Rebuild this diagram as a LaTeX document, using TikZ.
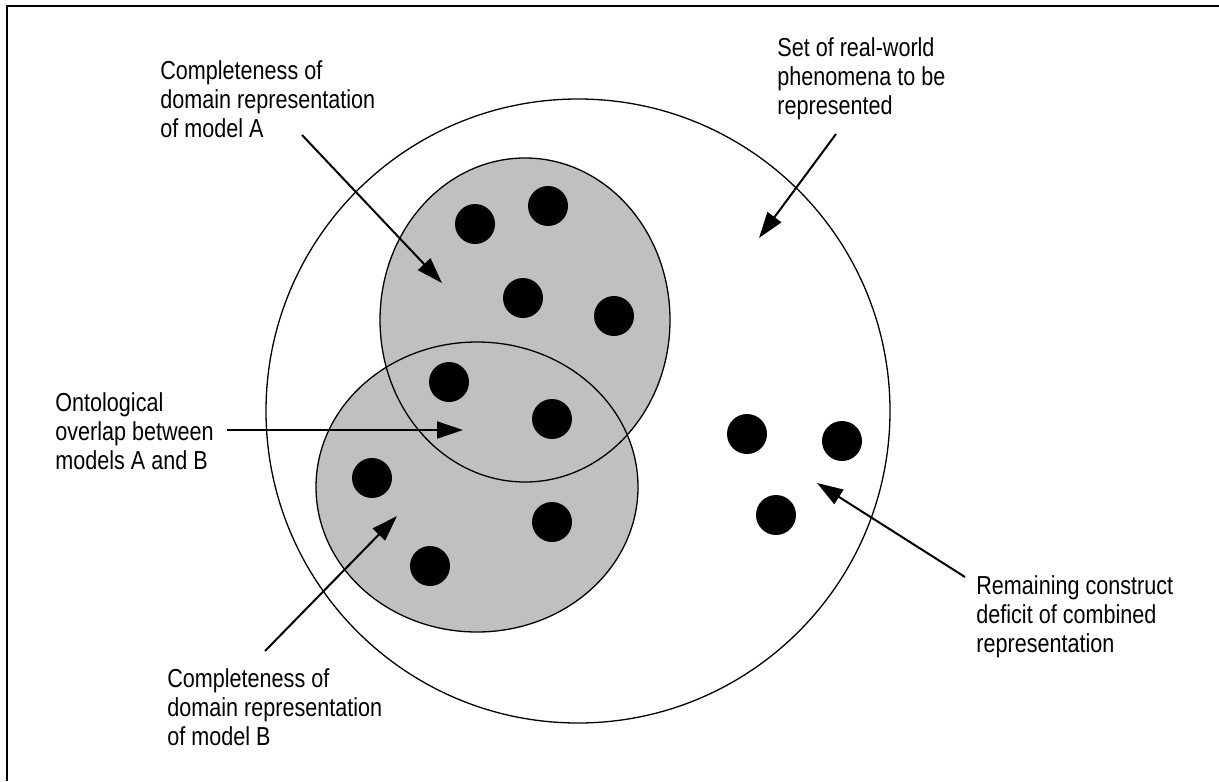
\documentclass[tikz,border=0pt]{standalone}
\usepackage{fontspec}
\setmainfont{Liberation Sans}[FakeStretch=0.83]
\usetikzlibrary{arrows.meta}
\definecolor{modelgray}{RGB}{192,192,192}

\begin{document}
\begin{tikzpicture}[
    x=0.5pt, y=-0.5pt,
    dot/.style={circle, fill=black, inner sep=0pt, minimum size=20pt},
    note/.style={anchor=north west, align=left, inner sep=0pt, font=\fontsize{13}{14.5}\selectfont},
    region/.style={line width=0.65pt},
    pointer/.style={-{Triangle[length=13pt,width=8.5pt]}, line width=1pt}
]
    \useasboundingbox (0,0) rectangle (1219,781);
    \draw [line width=1.2pt] (7,781) -- (7,6) -- (1219,6);

    % the world and the two models
    \draw [region] (578,411) circle [radius=312];
    \fill [modelgray] (525,320) ellipse [x radius=145, y radius=162];
    \fill [modelgray] (477,487) ellipse [x radius=161, y radius=145];
    \draw [region] (525,320) ellipse [x radius=145, y radius=162];
    \draw [region] (477,487) ellipse [x radius=161, y radius=145];

    % phenomena
        \node[dot] (a1) at (475,224) {};
        \node[dot] (a2) at (548,206) {};
        \node[dot] (a3) at (523,298) {};
        \node[dot] (a4) at (614,316) {};
        \node[dot] (ab1) at (449,382) {};
        \node[dot] (ab2) at (552,419) {};
        \node[dot] (b1) at (372,478) {};
        \node[dot] (b2) at (552,522) {};
        \node[dot] (b3) at (430,566) {};
        \node[dot] (r1) at (747,434) {};
        \node[dot] (r2) at (842,441) {};
        \node[dot] (r3) at (776,515) {};

    % labels
        \node[note] (LA) at (160,60) {Completeness of\\domain representation\\of model A};
        \node[note] (LW) at (777,37) {Set of real-world\\phenomena to be\\represented};
        \node[note] (LO) at (55,392) {Ontological\\overlap between\\models A and B};
        \node[note] (LR) at (976,575) {Remaining construct\\deficit of combined\\representation};
        \node[note] (LB) at (167,668) {Completeness of\\domain representation\\of model B};

    % arrow ends
        \coordinate (sA) at (302,135);
        \coordinate (tA) at (442,283);
        \coordinate (sW) at (836,134);
        \coordinate (tW) at (759,238);
        \coordinate (sO) at (227,430);
        \coordinate (tO) at (463,430);
        \coordinate (sB) at (265,651);
        \coordinate (tB) at (397,516);
        \coordinate (sR) at (965,577);
        \coordinate (tR) at (817,483);
    \draw [pointer] (sA) -- (tA);
    \draw [pointer] (sW) -- (tW);
    \draw [pointer] (sO) -- (tO);
    \draw [pointer] (sB) -- (tB);
    \draw [pointer] (sR) -- (tR);
\end{tikzpicture}
\end{document}
